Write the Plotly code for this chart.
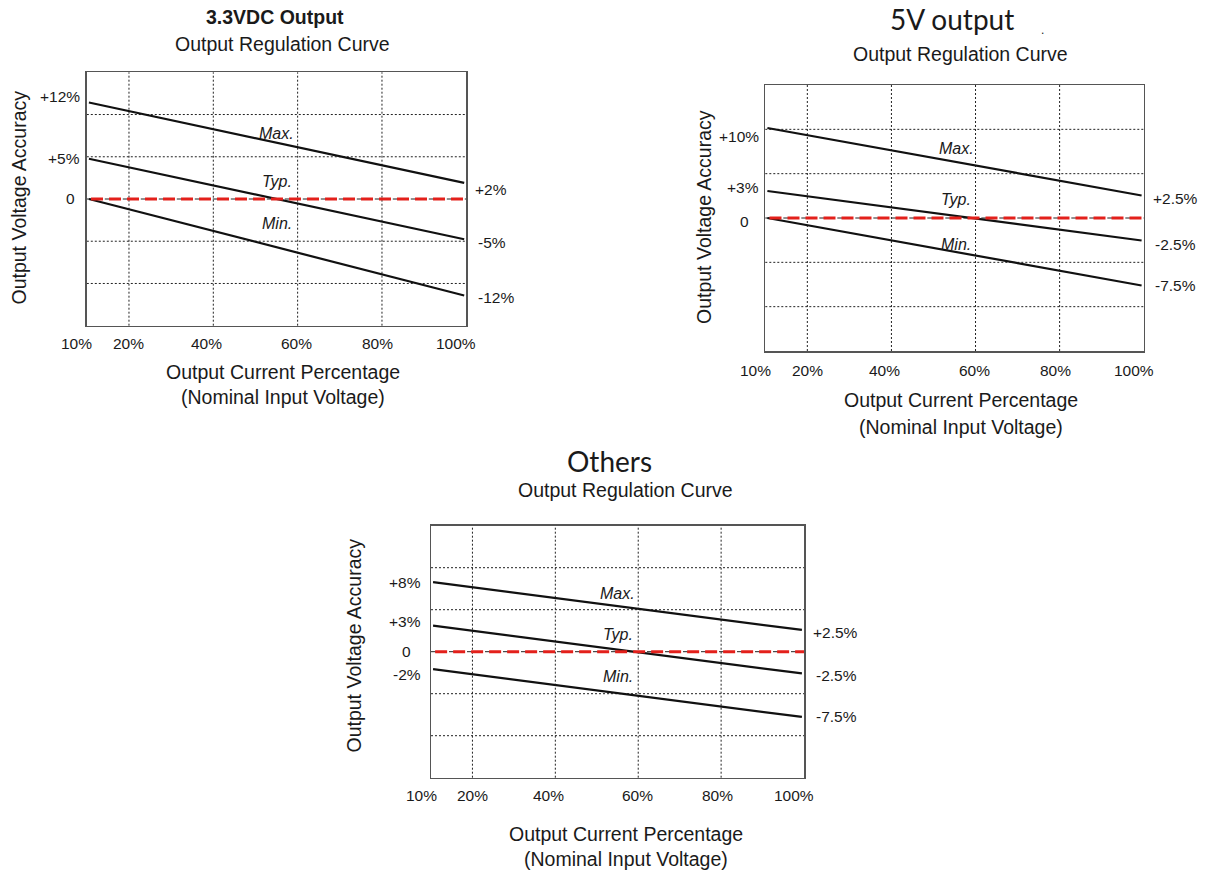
import plotly.graph_objects as go

W, H = 1231, 870

# ---------------- data ----------------
load_pct = [10.5, 99.5]                      # output current percentage (line ends)
x_tick_vals = [10, 20, 40, 60, 80, 100]
x_tick_text = ["10%", "20%", "40%", "60%", "80%", "100%"]

# 3.3VDC output
v33_max = [12, 2]
v33_typ = [5, -5]
v33_min = [0, -12]
v33_left_vals = [12, 5, 0]
v33_left_text = ["+12%", "+5%", "0"]
v33_right_vals = [2, -5, -12]
v33_right_text = ["+2%", "-5%", "-12%"]

# 5V output
v5_max = [10, 2.5]
v5_typ = [3, -2.5]
v5_min = [0, -7.5]
v5_left_vals = [10, 3, 0]
v5_left_text = ["+10%", "+3%", "0"]
v5_right_vals = [2.5, -2.5, -7.5]
v5_right_text = ["+2.5%", "-2.5%", "-7.5%"]

# Others
oth_max = [8, 2.5]
oth_typ = [3, -2.5]
oth_min = [-2, -7.5]
oth_left_vals = [8, 3, 0, -2]
oth_left_text = ["+8%", "+3%", "0", "-2%"]
oth_right_vals = [2.5, -2.5, -7.5]
oth_right_text = ["+2.5%", "-2.5%", "-7.5%"]

curve_names = ["Max.", "Typ.", "Min."]
grid_x = [20, 40, 60, 80]

# ---------------- styles / layout ----------------
FONT = "Liberation Sans, Arial, sans-serif"
TXT = "#1a1a1a"
TICK_SIZE = 15.5
LABEL_SIZE = 19.5

charts = [
    dict(title="3.3VDC Output", title_style="bold",
         series=(v33_max, v33_typ, v33_min),
         left=(v33_left_vals, v33_left_text), right=(v33_right_vals, v33_right_text),
         frame=(86.8, 466.3, 72.3, 325.7), half=15.75,
         left_shift=[6, 0, 0], right_shift=[-7, -3.5, -2], gap=5, zero_gap=10,
         name_pos=[(55.1, 8.1), (55.0, 2.15), (55.0, -3.07)],
         title_xy=(274.5, 17.5), sub_xy=(282, 43.5),
         ytitle_xy=(18.5, 198), xt1_xy=(282.5, 372), xt2_xy=(283, 397),
         tick_dy=17.5),
    dict(title="5V output", title_style="big",
         series=(v5_max, v5_typ, v5_min),
         left=(v5_left_vals, v5_left_text), right=(v5_right_vals, v5_right_text),
         frame=(765.3, 1143.7, 85.0, 351.0), half=14.78,
         left_shift=[-8, 4, -3], right_shift=[-3, -3.5, 0], gap=4, zero_gap=14,
         name_pos=[(55.5, 7.7), (55.3, 2.03), (55.3, -2.97)],
         title_xy=(952, 19), sub_xy=(960, 54),
         ytitle_xy=(703.5, 217.5), xt1_xy=(961, 399.5), xt2_xy=(961, 427),
         tick_dy=19),
    dict(title="Others", title_style="big",
         series=(oth_max, oth_typ, oth_min),
         left=(oth_left_vals, oth_left_text), right=(oth_right_vals, oth_right_text),
         frame=(431.0, 804.0, 525.7, 777.7), half=14.48,
         left_shift=[0, 4, 0, -5], right_shift=[-3, -2.5, 0], gap=8, zero_gap=18,
         name_pos=[(55.0, 6.7), (55.0, 2.03), (55.0, -2.87)],
         title_xy=(609.5, 461), sub_xy=(625.5, 490.5),
         ytitle_xy=(353.5, 646), xt1_xy=(626, 833.5), xt2_xy=(626, 858.5),
         tick_dy=18),
]
tick_xshift = [-10, 0, -7, -1, -4, -10]


def px_x(p):
    return p / W


def px_y(p):
    return 1 - p / H


fig = go.Figure()
layout = dict(width=W, height=H, margin=dict(l=0, r=0, t=0, b=0),
              paper_bgcolor="white", plot_bgcolor="white", showlegend=False)
shapes, annotations = [], []


def paper_text(text, xy, size, bold=False, family=FONT, angle=0):
    t = f"<b>{text}</b>" if bold else text
    annotations.append(dict(text=t, x=px_x(xy[0]), y=px_y(xy[1]), xref="paper", yref="paper",
                            xanchor="center", yanchor="middle", showarrow=False, textangle=angle,
                            font=dict(family=family, size=size, color=TXT)))


for i, c in enumerate(charts, start=1):
    sfx = "" if i == 1 else str(i)
    xa, ya = "x" + sfx, "y" + sfx
    x0, x1, y0, y1 = c["frame"]
    half = c["half"]
    axis_common = dict(showgrid=False, zeroline=False, showticklabels=False, ticks="",
                       showline=True, mirror=True, linecolor="#555", linewidth=1.5, fixedrange=True)
    layout["xaxis" + sfx] = dict(domain=[px_x(x0), px_x(x1)], range=[10, 100], anchor=ya, **axis_common)
    layout["yaxis" + sfx] = dict(domain=[px_y(y1), px_y(y0)], range=[-half, half], anchor=xa, **axis_common)

    # grid lines
    for gx in grid_x:
        shapes.append(dict(type="line", xref=xa, yref=ya + " domain", x0=gx, x1=gx, y0=0, y1=1,
                           line=dict(color="#222", width=1, dash="2px,2px"), layer="below"))
    for k in (-2, -1, 1, 2):
        gy = k * half / 3
        shapes.append(dict(type="line", xref=xa + " domain", yref=ya, x0=0, x1=1, y0=gy, y1=gy,
                           line=dict(color="#222", width=1, dash="2px,2px"), layer="below"))
    shapes.append(dict(type="line", xref=xa + " domain", yref=ya, x0=0, x1=1, y0=0, y1=0,
                       line=dict(color="#222", width=1, dash="dashdot"), layer="below"))

    # curves
    for vals in c["series"]:
        fig.add_trace(go.Scatter(x=load_pct, y=vals, mode="lines", xaxis=xa, yaxis=ya,
                                 line=dict(color="#111", width=2.2), hoverinfo="skip"))
    # nominal (0) reference
    shapes.append(dict(type="line", xref=xa, yref=ya, x0=11, x1=100, y0=0, y1=0,
                       line=dict(color="#e3201b", width=3, dash="12px,6px"), layer="above"))

    # curve names
    for name, (nx, ny) in zip(curve_names, c["name_pos"]):
        annotations.append(dict(text=f"<i>{name}</i>", x=nx, y=ny, xref=xa, yref=ya,
                                xanchor="center", yanchor="middle", showarrow=False,
                                font=dict(family=FONT, size=16, color=TXT)))

    # left value labels
    lv, lt = c["left"]
    for v, t, dy in zip(lv, lt, c["left_shift"]):
        gap = c["zero_gap"] if t == "0" else c["gap"]
        annotations.append(dict(text=t, x=10, y=v, xref=xa, yref=ya, xanchor="right", yanchor="middle",
                                xshift=-gap, yshift=dy, showarrow=False,
                                font=dict(family=FONT, size=TICK_SIZE, color=TXT)))
    # right value labels
    rv, rt = c["right"]
    for v, t, dy in zip(rv, rt, c["right_shift"]):
        dx = 9.5 if t.startswith("-") else 7
        annotations.append(dict(text=t, x=100, y=v, xref=xa, yref=ya, xanchor="left", yanchor="middle",
                                xshift=dx, yshift=dy, showarrow=False,
                                font=dict(family=FONT, size=TICK_SIZE, color=TXT)))
    # x tick labels
    for v, t, dx in zip(x_tick_vals, x_tick_text, tick_xshift):
        annotations.append(dict(text=t, x=v, y=0, xref=xa, yref=ya + " domain", xanchor="center",
                                yanchor="middle", xshift=dx, yshift=-c["tick_dy"], showarrow=False,
                                font=dict(family=FONT, size=TICK_SIZE, color=TXT)))

    # titles
    if c["title_style"] == "bold":
        paper_text(c["title"], c["title_xy"], 19.5, bold=True)
    else:
        paper_text(c["title"], c["title_xy"], 28, family="Lato, Inter, sans-serif")
    paper_text("Output Regulation Curve", c["sub_xy"], LABEL_SIZE)
    paper_text("Output Voltage Accuracy", c["ytitle_xy"], LABEL_SIZE, angle=-90)
    paper_text("Output Current Percentage", c["xt1_xy"], LABEL_SIZE)
    paper_text("(Nominal Input Voltage)", c["xt2_xy"], LABEL_SIZE)

# small stray mark beside the 5V title in the original
paper_text(".", (1042, 30), 12)

layout["shapes"] = shapes
layout["annotations"] = annotations
fig.update_layout(**layout)
fig.write_html(
    "out.html",
    config={"displayModeBar": False, "staticPlot": True},
    post_script="document.body.style.margin='0';document.body.style.overflow='hidden';",
)
